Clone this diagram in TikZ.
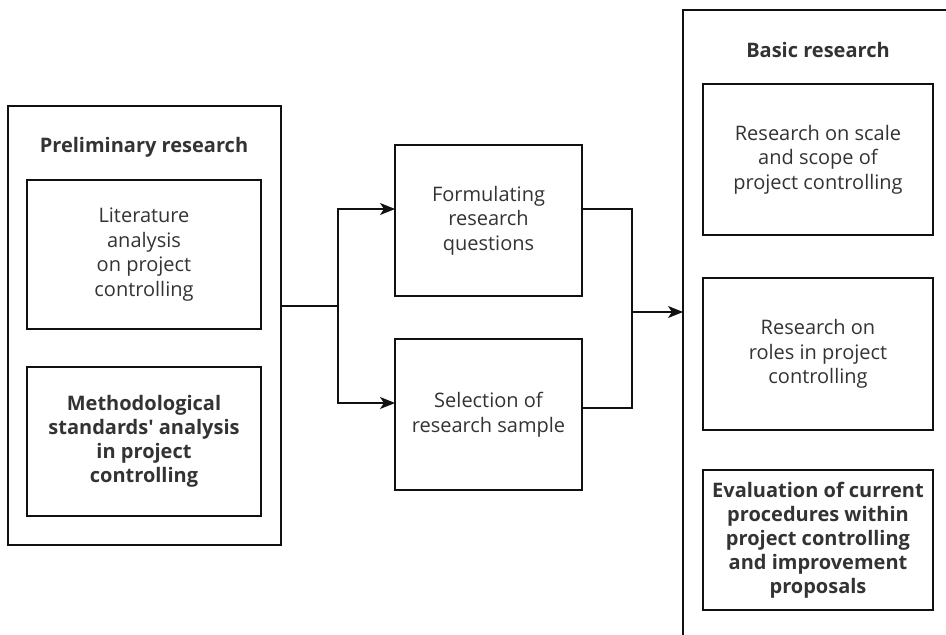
\documentclass[tikz,border=0pt]{standalone}
\usepackage{fontspec}
\setmainfont{Open Sans}
\usetikzlibrary{arrows.meta}
\definecolor{txt}{HTML}{333333}
\definecolor{ln}{HTML}{111111}
\begin{document}
\begin{tikzpicture}[x=1bp,y=-1bp,
  every node/.style={inner sep=0pt, outer sep=0pt},
  frame/.style={draw=ln, line width=1.1bp},
  box/.style={frame, align=center, text=txt,
    font=\fontsize{20bp}{24.5bp}\selectfont},
  boldbox/.style={box, font=\fontsize{20bp}{24bp}\selectfont\bfseries},
  title/.style={text=txt, font=\fontsize{20bp}{24bp}\selectfont\bfseries},
  conn/.style={draw=ln, line width=1.1bp},
  arr/.style={conn, -{Stealth[length=15bp,width=12bp,inset=4bp]}}]
\useasboundingbox (0,0) rectangle (946,635);

% preliminary research group
\node[frame, minimum width=273bp, minimum height=439bp] (prelim) at (144.5,325.5) {};
\node[title] (prelimtitle) at (144,147) {Preliminary research};
\node[box, minimum width=234bp, minimum height=149bp] (lit) at (144,254.5)
  {Literature\\analysis\\on project\\controlling};
\node[boldbox, minimum width=234bp, minimum height=149bp] (meth) at (144,441.5)
  {Methodological\\standards\textquotesingle{} analysis\\in project\\controlling};

% middle steps
\node[box, minimum width=187bp, minimum height=151bp] (form) at (488.5,220.5)
  {Formulating\\research\\questions};
\node[box, minimum width=187bp, minimum height=151bp] (sel) at (488.5,414.5)
  {Selection of\\research sample};

% basic research group (runs past the right and bottom edges)
\begin{scope}
\clip (0,0) rectangle (946,635);
\node[frame, minimum width=320bp, minimum height=700bp, anchor=north west] (basic) at (683,10) {};
\end{scope}
\node[title] (basictitle) at (818,50) {Basic research};
\node[box, minimum width=230bp, minimum height=151bp] (scale) at (818,159.5)
  {Research on scale\\and scope of\\project controlling};
\node[box, minimum width=230bp, minimum height=152bp] (roles) at (818,354)
  {Research on\\roles in project\\controlling};
\node[boldbox, minimum width=230bp, minimum height=140bp] (eval) at (818,540)
  {Evaluation of current\\procedures within\\project controlling\\and improvement\\proposals};

% connectors
\coordinate (split) at (338,306);
\coordinate (join) at (632,312);
\draw[conn] (prelim.east |- split) -- (split);
\draw[arr] (split) |- (form.west |- 0,209);
\draw[arr] (split) |- (sel.west |- 0,403);
\draw[conn] (form.east |- 0,209) -| (join) |- (sel.east |- 0,408);
\draw[arr] (join) -- (basic.west |- join);
\end{tikzpicture}
\end{document}
